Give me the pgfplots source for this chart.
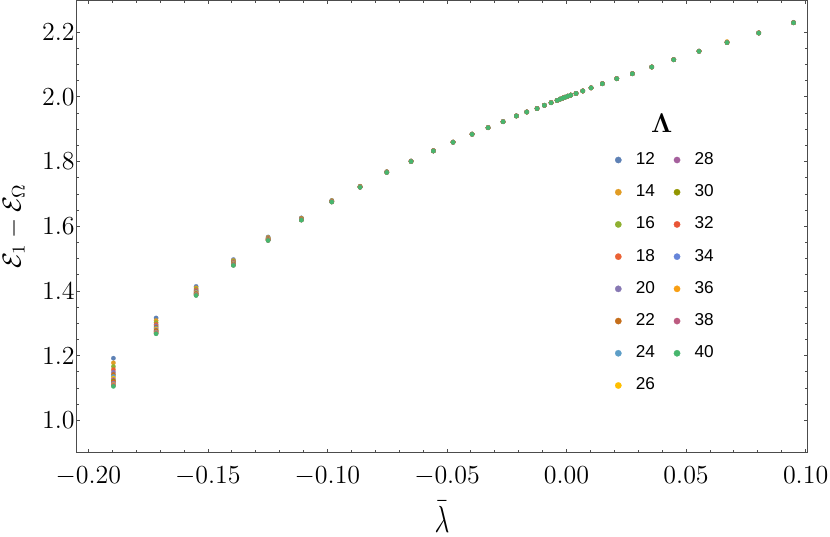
\RequirePackage{fix-cm}
\documentclass[border=0pt]{standalone}
\usepackage[no-math]{fontspec}
\usepackage{graphicx}
\usepackage{pgfplots}
\usepackage{pgfplotstable}
\pgfplotsset{compat=1.18}
\newfontfamily\legendfont{Liberation Sans}

\definecolor{c12}{rgb}{0.368417,0.506779,0.709798}
\definecolor{c14}{rgb}{0.880722,0.611041,0.142051}
\definecolor{c16}{rgb}{0.560181,0.691569,0.194885}
\definecolor{c18}{rgb}{0.922526,0.385626,0.209179}
\definecolor{c20}{rgb}{0.528488,0.470624,0.701351}
\definecolor{c22}{rgb}{0.772079,0.431554,0.102387}
\definecolor{c24}{rgb}{0.363898,0.618501,0.782349}
\definecolor{c26}{rgb}{1,0.75,0}
\definecolor{c28}{rgb}{0.647624,0.37816,0.614037}
\definecolor{c30}{rgb}{0.571589,0.586483,0}
\definecolor{c32}{rgb}{0.915,0.3325,0.2125}
\definecolor{c34}{rgb}{0.400822,0.522007,0.85}
\definecolor{c36}{rgb}{0.972829,0.621644,0.073362}
\definecolor{c38}{rgb}{0.736783,0.358,0.503027}
\definecolor{c40}{rgb}{0.280264,0.715,0.429209}

\pgfplotstableread{
x y12 y14 y16 y18 y20 y22 y24 y26 y28 y30 y32 y34 y36 y38 y40
-0.18954 1.1920 1.1777 1.1662 1.1567 1.1487 1.1417 1.1356 1.1303 1.1256 1.1214 1.1174 1.1140 1.1107 1.1077 1.1050
-0.17169 1.3165 1.3085 1.3020 1.2966 1.2921 1.2882 1.2847 1.2818 1.2791 1.2767 1.2745 1.2725 1.2707 1.2690 1.2675
-0.15496 1.4140 1.4094 1.4057 1.4026 1.4001 1.3978 1.3959 1.3941 1.3926 1.3913 1.3900 1.3889 1.3878 1.3869 1.3860
-0.13936 1.4970 1.4940 1.4917 1.4897 1.4880 1.4866 1.4853 1.4842 1.4833 1.4824 1.4816 1.4809 1.4802 1.4796 1.4790
-0.12484 1.5670 1.5652 1.5637 1.5625 1.5615 1.5606 1.5599 1.5592 1.5586 1.5581 1.5576 1.5571 1.5567 1.5563 1.5560
-0.11092 1.6260 1.6249 1.6239 1.6232 1.6225 1.6220 1.6215 1.6210 1.6207 1.6203 1.6200 1.6197 1.6195 1.6192 1.6190
-0.09820 1.6800 1.6792 1.6785 1.6780 1.6775 1.6771 1.6768 1.6765 1.6762 1.6759 1.6757 1.6755 1.6753 1.6752 1.6750
-0.08637 1.7240 1.7234 1.7230 1.7226 1.7223 1.7220 1.7217 1.7215 1.7213 1.7212 1.7210 1.7209 1.7207 1.7206 1.7205
-0.07520 1.7690 1.7686 1.7683 1.7680 1.7678 1.7676 1.7674 1.7672 1.7671 1.7670 1.7669 1.7668 1.7667 1.7666 1.7665
-0.06504 1.8021 1.8018 1.8016 1.8014 1.8012 1.8011 1.8009 1.8008 1.8007 1.8006 1.8006 1.8005 1.8004 1.8004 1.8003
-0.05571 1.8341 1.8339 1.8337 1.8336 1.8335 1.8333 1.8333 1.8332 1.8331 1.8330 1.8330 1.8329 1.8329 1.8328 1.8328
-0.04747 1.8607 1.8605 1.8604 1.8603 1.8602 1.8601 1.8601 1.8600 1.8599 1.8599 1.8598 1.8598 1.8598 1.8597 1.8597
-0.03952 1.8854 1.8852 1.8851 1.8850 1.8849 1.8848 1.8848 1.8847 1.8846 1.8846 1.8845 1.8845 1.8845 1.8844 1.8844
-0.03283 1.9053 1.9052 1.9052 1.9051 1.9051 1.9050 1.9050 1.9049 1.9049 1.9049 1.9049 1.9049 1.9048 1.9048 1.9048
-0.02656 1.9238 1.9237 1.9237 1.9236 1.9236 1.9235 1.9235 1.9234 1.9234 1.9234 1.9234 1.9234 1.9233 1.9233 1.9233
-0.02099 1.9415 1.9414 1.9414 1.9413 1.9413 1.9412 1.9412 1.9411 1.9411 1.9411 1.9411 1.9411 1.9410 1.9410 1.9410
-0.01665 1.9538 1.9537 1.9537 1.9536 1.9536 1.9535 1.9535 1.9534 1.9534 1.9534 1.9534 1.9534 1.9533 1.9533 1.9533
-0.01234 1.9645 1.9644 1.9644 1.9643 1.9643 1.9642 1.9642 1.9641 1.9641 1.9641 1.9641 1.9641 1.9640 1.9640 1.9640
-0.00929 1.9745 1.9744 1.9744 1.9743 1.9743 1.9742 1.9742 1.9741 1.9741 1.9741 1.9741 1.9741 1.9740 1.9740 1.9740
-0.00648 1.9826 1.9825 1.9825 1.9824 1.9824 1.9823 1.9823 1.9822 1.9822 1.9822 1.9822 1.9822 1.9821 1.9821 1.9821
-0.00397 1.9897 1.9896 1.9896 1.9895 1.9895 1.9894 1.9894 1.9893 1.9893 1.9893 1.9893 1.9893 1.9892 1.9892 1.9892
-0.00272 1.9935 1.9934 1.9934 1.9933 1.9933 1.9932 1.9932 1.9931 1.9931 1.9931 1.9931 1.9931 1.9930 1.9930 1.9930
-0.00159 1.9967 1.9966 1.9966 1.9965 1.9965 1.9964 1.9964 1.9963 1.9963 1.9963 1.9963 1.9963 1.9962 1.9962 1.9962
-0.00063 1.9995 1.9994 1.9994 1.9993 1.9993 1.9992 1.9992 1.9991 1.9991 1.9991 1.9991 1.9991 1.9990 1.9990 1.9990
0.00050 2.0027 2.0026 2.0026 2.0025 2.0025 2.0024 2.0024 2.0023 2.0023 2.0023 2.0023 2.0023 2.0022 2.0022 2.0022
0.00176 2.0060 2.0059 2.0059 2.0058 2.0058 2.0057 2.0057 2.0056 2.0056 2.0056 2.0056 2.0056 2.0055 2.0055 2.0055
0.00397 2.0113 2.0112 2.0112 2.0111 2.0111 2.0110 2.0110 2.0109 2.0109 2.0109 2.0109 2.0109 2.0108 2.0108 2.0108
0.00678 2.0188 2.0187 2.0187 2.0186 2.0186 2.0185 2.0185 2.0184 2.0184 2.0184 2.0184 2.0184 2.0183 2.0183 2.0183
0.01025 2.0285 2.0284 2.0284 2.0283 2.0283 2.0282 2.0282 2.0281 2.0281 2.0281 2.0281 2.0281 2.0280 2.0280 2.0280
0.01497 2.0413 2.0412 2.0412 2.0411 2.0411 2.0410 2.0410 2.0409 2.0409 2.0409 2.0409 2.0409 2.0408 2.0408 2.0408
0.02100 2.0568 2.0567 2.0567 2.0566 2.0566 2.0565 2.0565 2.0564 2.0564 2.0564 2.0564 2.0564 2.0563 2.0563 2.0563
0.02752 2.0722 2.0721 2.0721 2.0720 2.0720 2.0719 2.0719 2.0718 2.0718 2.0718 2.0718 2.0718 2.0717 2.0717 2.0717
0.03563 2.0929 2.0928 2.0928 2.0927 2.0927 2.0926 2.0926 2.0925 2.0925 2.0925 2.0925 2.0925 2.0924 2.0924 2.0924
0.04483 2.1155 2.1154 2.1154 2.1153 2.1153 2.1152 2.1152 2.1151 2.1151 2.1151 2.1151 2.1151 2.1150 2.1150 2.1150
0.05541 2.1420 2.1418 2.1417 2.1416 2.1415 2.1414 2.1414 2.1413 2.1412 2.1412 2.1411 2.1411 2.1411 2.1410 2.1410
0.06712 2.1692 2.1712 2.1689 2.1688 2.1687 2.1686 2.1686 2.1685 2.1684 2.1684 2.1683 2.1683 2.1683 2.1682 2.1682
0.08038 2.1985 2.1983 2.1982 2.1981 2.1980 2.1979 2.1979 2.1978 2.1977 2.1977 2.1976 2.1976 2.1976 2.1975 2.1975
0.09494 2.2310 2.2300 2.2299 2.2298 2.2297 2.2296 2.2296 2.2295 2.2294 2.2294 2.2294 2.2294 2.2294 2.2294 2.2294
}\data

\begin{document}
\begin{tikzpicture}
\begin{axis}[
  scale only axis,
  width=365.3pt, height=226pt,
  xmin=-0.2049, xmax=0.1007,
  ymin=0.901, ymax=2.2989,
  xtick={-0.2,-0.15,-0.1,-0.05,0,0.05,0.1},
  ytick={1.0,1.2,1.4,1.6,1.8,2.0,2.2},
  minor x tick num=4,
  minor y tick num=3,
  tick align=inside,
  major tick length=1.8pt,
  minor tick length=1.1pt,
  axis line style={draw=black!70, line width=0.5pt},
  every tick/.style={draw=black!70, line width=0.45pt},
  tick label style={font=\fontsize{13}{15}\selectfont},
  xticklabel style={/pgf/number format/fixed, /pgf/number format/fixed zerofill, /pgf/number format/precision=2, yshift=-3.5pt},
  yticklabel style={/pgf/number format/fixed, /pgf/number format/fixed zerofill, /pgf/number format/precision=1, xshift=2.5pt},
  xlabel={\scalebox{1}[1.45]{$\bar{\lambda}$}},
  xlabel style={font=\fontsize{13}{15}\selectfont, inner sep=0pt, at={(axis description cs:0.5,0)}, anchor=base, yshift=-40pt},
  ylabel={$\mathcal{E}_1-\mathcal{E}_\Omega$},
  ylabel style={font=\fontsize{13}{15}\selectfont, inner sep=0pt, at={(axis description cs:0,0.5)}, anchor=base, yshift=28pt},
  legend columns=2,
  legend cell align=left,
  legend image code/.code={\path[draw=none] (0pt,0pt) (13.6pt,0pt); \draw[mark repeat=2,mark phase=2,#1] plot coordinates {(0pt,0pt)(6.8pt,0pt)(13.6pt,0pt)};},
  legend style={at={(axis description cs:0.7227,0.6721)}, anchor=north west, draw=none, fill=none, inner sep=0pt, outer sep=0pt,
    font={\fontsize{8.6}{10}\selectfont\legendfont}, row sep=4.6pt,
    /tikz/every even column/.append style={column sep=2.2pt}},
]
\pgfplotsinvokeforeach{12,14,16,18,20,22,24,26,28,30,32,34,36,38,40}{
  \addplot[only marks, mark=*, color=c#1, line width=0.1pt, mark size=1.1pt, forget plot] table[x=x, y=y#1] {\data};
}
\pgfplotsinvokeforeach{12,28,14,30,16,32,18,34,20,36,22,38,24,40,26}{
  \addlegendimage{only marks, mark=*, color=c#1, line width=0.1pt, mark size=1.6pt}
  \addlegendentry{#1}
}
\node[anchor=base, font=\fontsize{13.5}{15}\selectfont] at (axis description cs:0.8007,0.7071) {$\mathbf{\Lambda}$};
\end{axis}
\pgfresetboundingbox
\path (-38.35pt,-41.85pt) rectangle (376.65pt,226.15pt);
\end{tikzpicture}
\end{document}
